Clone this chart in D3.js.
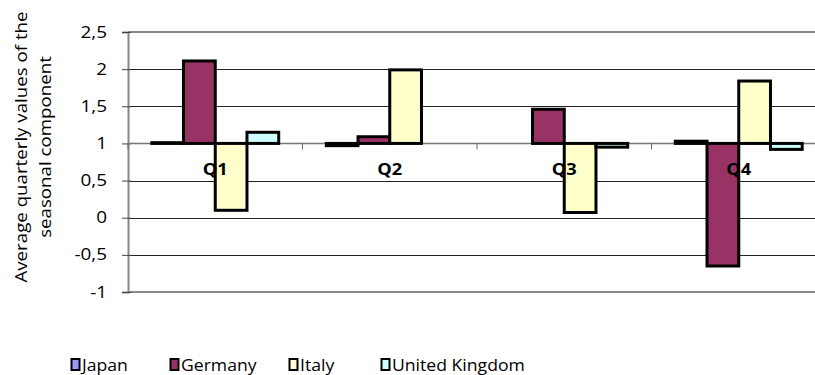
<!DOCTYPE html>
<html>
<head>
<meta charset="utf-8">
<script src="https://cdn.jsdelivr.net/npm/d3@7"></script>
<style>
  body { margin: 0; background: #fff; }
  text { font-family: "Open Sans", sans-serif; fill: #000; }
</style>
</head>
<body>
<div id="chart"></div>
<script>
// data
const quarters = ["Q1", "Q2", "Q3", "Q4"];
const series = ["Japan", "Germany", "Italy", "United Kingdom"];
const japan = [1.01, 0.97, 1.00, 1.03];
const germany = [2.11, 1.09, 1.46, -0.65];
const italy = [0.10, 1.99, 0.07, 1.84];
const uk = [1.15, 1.00, 0.95, 0.92];
const yTicks = [-1, -0.5, 0, 0.5, 1, 1.5, 2, 2.5];
const colors = ["#9999FF", "#993366", "#FFFFCC", "#CCFFFF"];

const FRAME_WIDTH = 815;
const FRAME_HEIGHT = 375;
// plot area runs past the right edge of the picture (it is cropped there)
const MARGINS = {left: 128, top: 32, right: 826, bottom: 292};

const values = [japan, germany, italy, uk];

const svg = d3.select("#chart")
  .append("svg")
    .attr("width", FRAME_WIDTH)
    .attr("height", FRAME_HEIGHT);

const X_SCALE = d3.scaleBand()
  .domain(quarters)
  .range([MARGINS.left, MARGINS.right]);

const X_INNER = d3.scaleBand()
  .domain(series)
  .range([0, X_SCALE.bandwidth()])
  .paddingOuter(0.75);

const Y_SCALE = d3.scaleLinear()
  .domain([-1, 2.5])
  .range([MARGINS.bottom, MARGINS.top]);

// stretch a text horizontally (the reference fonts are wider)
function stretch(sel, k) {
  sel.each(function() {
    const len = this.getComputedTextLength();
    d3.select(this).attr("textLength", len * k).attr("lengthAdjust", "spacingAndGlyphs");
  });
}

// gridlines
svg.append("g")
  .selectAll("line")
  .data(yTicks.filter(d => d !== 2.5 && d !== -1 && d !== 1))
  .enter()
  .append("line")
    .attr("x1", MARGINS.left)
    .attr("x2", MARGINS.right)
    .attr("y1", d => Math.round(Y_SCALE(d)) + 0.5)
    .attr("y2", d => Math.round(Y_SCALE(d)) + 0.5)
    .attr("stroke", "#222")
    .attr("stroke-width", 1);

// top / bottom border of the plot area
svg.append("g")
  .selectAll("line")
  .data([2.5, -1])
  .enter()
  .append("line")
    .attr("x1", MARGINS.left)
    .attr("x2", MARGINS.right)
    .attr("y1", d => Y_SCALE(d))
    .attr("y2", d => Y_SCALE(d))
    .attr("stroke", "#888")
    .attr("stroke-width", 2);

// y axis
const yAxis = svg.append("g")
  .attr("transform", "translate(" + MARGINS.left + ",0)")
  .call(d3.axisLeft(Y_SCALE)
    .tickValues(yTicks)
    .tickSize(6)
    .tickPadding(15)
    .tickFormat(d => String(d).replace(".", ",")));
yAxis.select(".domain").attr("stroke", "#888").attr("stroke-width", 2);
yAxis.selectAll(".tick line").attr("stroke", "#444").attr("x2", -6).attr("x1", 3);
yAxis.selectAll(".tick text")
  .attr("font-size", "16px")
  .attr("font-family", "Open Sans")
  .call(stretch, 1.18);

// category axis line at y = 1
svg.append("line")
  .attr("x1", MARGINS.left)
  .attr("x2", MARGINS.right)
  .attr("y1", Y_SCALE(1))
  .attr("y2", Y_SCALE(1))
  .attr("stroke", "#777")
  .attr("stroke-width", 1.5);

svg.append("g")
  .selectAll("line")
  .data(quarters)
  .enter()
  .append("line")
    .attr("x1", d => X_SCALE(d))
    .attr("x2", d => X_SCALE(d))
    .attr("y1", Y_SCALE(1))
    .attr("y2", Y_SCALE(1) + 6)
    .attr("stroke", "#666")
    .attr("stroke-width", 1);

// bars, growing from the axis at 1
const groups = svg.append("g")
  .selectAll("g")
  .data(series)
  .enter()
  .append("g")
    .attr("fill", (d, i) => colors[i]);

groups.selectAll("rect")
  .data((s, i) => values[i].map((v, j) => ({q: quarters[j], s: s, v: v})))
  .enter()
  .append("rect")
    .attr("x", d => X_SCALE(d.q) + X_INNER(d.s))
    .attr("width", X_INNER.bandwidth())
    .attr("y", d => Math.min(Y_SCALE(d.v), Y_SCALE(1)))
    .attr("height", d => Math.abs(Y_SCALE(d.v) - Y_SCALE(1)))
    .attr("stroke", "#000")
    .attr("stroke-width", 3);

// category labels (drawn over the bars)
const xAxis = svg.append("g")
  .attr("transform", "translate(0," + Y_SCALE(1) + ")")
  .call(d3.axisBottom(X_SCALE).tickSize(0).tickPadding(20));
xAxis.select(".domain").remove();
xAxis.selectAll(".tick text")
  .attr("font-size", "16px")
  .attr("font-weight", "bold")
  .attr("font-family", "Open Sans")
  .call(stretch, 1.14);

// y axis title
const title = svg.append("text")
  .attr("transform", "translate(27,147) rotate(-90)")
  .attr("text-anchor", "middle")
  .attr("font-size", "17px");
title.append("tspan").attr("x", 0).attr("y", 0).text("Average quarterly values of the");
title.append("tspan").attr("x", 0).attr("y", 24).text("seasonal component");
title.selectAll("tspan").call(stretch, 1.1);

// legend
const legendX = [71, 170, 289, 381];
const legend = svg.append("g")
  .selectAll("g")
  .data(series)
  .enter()
  .append("g")
    .attr("transform", (d, i) => "translate(" + legendX[i] + ",359)");
legend.append("rect")
  .attr("x", 0.5)
  .attr("y", 0)
  .attr("width", 8)
  .attr("height", 11)
  .attr("fill", (d, i) => colors[i])
  .attr("stroke", "#000")
  .attr("stroke-width", 2);
legend.append("text")
  .attr("x", 11)
  .attr("y", 12)
  .attr("font-size", "16px")
  .text(d => d)
  .call(stretch, 1.1);
</script>
</body>
</html>
